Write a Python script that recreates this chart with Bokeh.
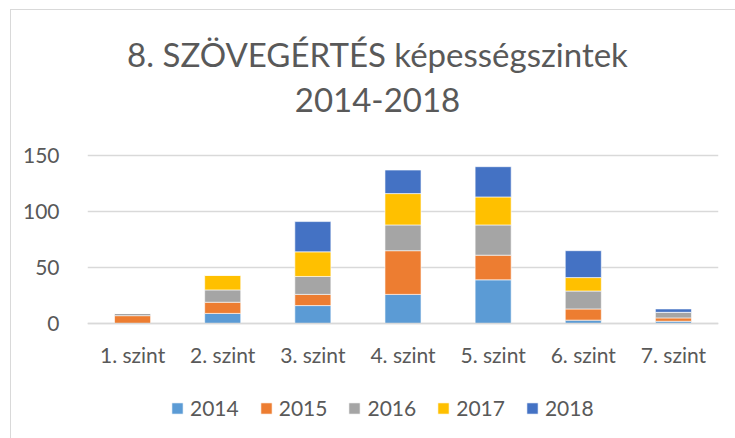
from bokeh.plotting import figure
from bokeh.models import Legend, Label, FixedTicker
from bokeh.embed import file_html
from bokeh.resources import INLINE

categories = ["1. szint", "2. szint", "3. szint", "4. szint", "5. szint", "6. szint", "7. szint"]
years = ["2014", "2015", "2016", "2017", "2018"]
v2014 = [0, 9, 16, 26, 39, 3, 2]
v2015 = [7, 10, 10, 39, 22, 10, 3]
v2016 = [2, 11, 16, 23, 27, 16, 5]
v2017 = [0, 13, 22, 28, 25, 12, 0]
v2018 = [0, 0, 27, 21, 27, 24, 3]
colors = ["#5B9BD5", "#ED7D31", "#A5A5A5", "#FFC000", "#4472C4"]
y_ticks = [0, 50, 100, 150]
title_lines = ["8. SZÖVEGÉRTÉS képességszintek", "2014-2018"]

data = {"cat": categories, "2014": v2014, "2015": v2015, "2016": v2016, "2017": v2017, "2018": v2018}

FONT = "Lato"
TXT = "#595959"
PXU = 1.12  # pixels per value unit
FRAME_H = 428

p = figure(x_range=categories, y_range=(-115 / PXU, 150 + 145 / PXU),
           frame_width=631, frame_height=FRAME_H,
           output_backend="svg", toolbar_location=None,
           min_border_left=76, min_border_right=17, min_border_top=0, min_border_bottom=0)
p.styles = {"border-left": "1px solid #d9d9d9", "border-top": "1px solid #d9d9d9",
            "margin-left": "10px", "margin-top": "9px"}

rs = p.vbar_stack(years, x="cat", width=0.4, source=data, color=colors,
                  line_color="white", line_width=0.6)

p.outline_line_color = None
p.xgrid.grid_line_color = None
p.ygrid.grid_line_color = "#d9d9d9"
p.ygrid.grid_line_width = 1.3
p.yaxis.ticker = FixedTicker(ticks=y_ticks)
p.xaxis.fixed_location = 0

for ax in (p.xaxis[0], p.yaxis[0]):
    ax.axis_line_color = None
    ax.major_tick_line_color = None
    ax.minor_tick_line_color = None
    ax.major_label_text_font = FONT
    ax.major_label_text_color = TXT
    ax.major_label_text_font_size = "21px"
p.yaxis.major_label_standoff = 22
p.xaxis.major_label_standoff = 12
p.xaxis[0].axis_line_color = "#d9d9d9"
p.xaxis[0].axis_line_width = 1.3

legend = Legend(items=[(y, [r]) for y, r in zip(years, rs)], orientation="horizontal",
                location=(83, 18), label_text_font=FONT, label_text_font_size="21px",
                label_text_color=TXT, glyph_width=14, glyph_height=14, label_standoff=6,
                spacing=20, border_line_color=None, background_fill_alpha=0,
                margin=0, padding=4)
p.add_layout(legend, "center")

title_y = [(323 - 53) / PXU, (323 - 99) / PXU]
for line, ty in zip(title_lines, title_y):
    p.add_layout(Label(x=290, y=ty, x_units="screen", y_units="data", text=line,
                       text_align="center", text_baseline="alphabetic",
                       text_font=FONT, text_font_size="33px", text_color=TXT))

open("out.html", "w").write(file_html(p, INLINE))
